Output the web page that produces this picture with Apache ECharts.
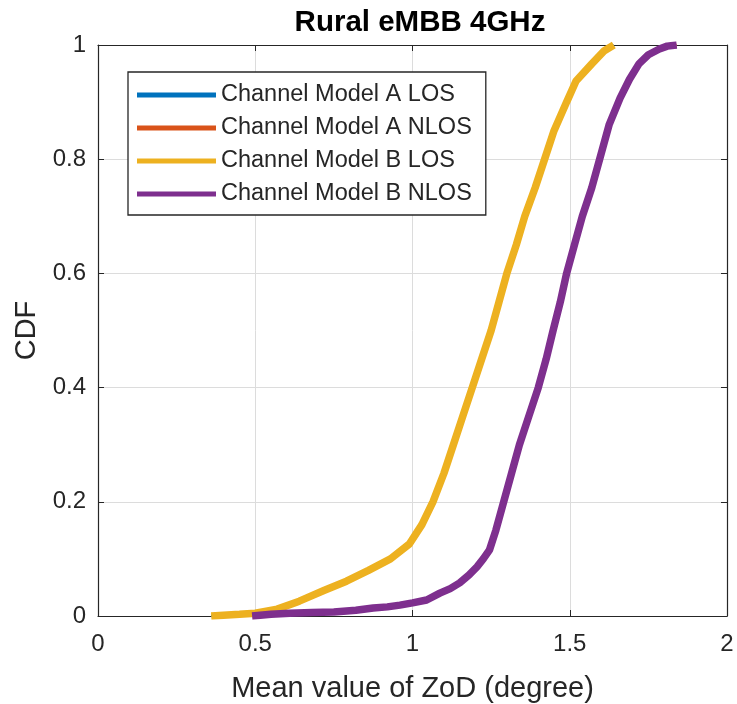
<!DOCTYPE html>
<html>
<head>
<meta charset="utf-8">
<script src="https://cdn.jsdelivr.net/npm/echarts@6/dist/echarts.min.js"></script>
<style>html,body{margin:0;padding:0;background:#fff}#c{width:737px;height:704px}</style>
</head>
<body>
<div id="c"></div>
<script>
var titleText = 'Rural eMBB 4GHz';
var xName = 'Mean value of ZoD (degree)';
var yName = 'CDF';
var seriesNames = ['Channel Model A LOS', 'Channel Model A NLOS', 'Channel Model B LOS', 'Channel Model B NLOS'];
var seriesColors = ['#0072BD', '#D95319', '#EDB120', '#7E2F8E'];
var xTicks = [0, 0.5, 1, 1.5, 2];
var yTicks = [0, 0.2, 0.4, 0.6, 0.8, 1];

// LOS (Model A and B overlap)
var losX = [0.36, 0.45, 0.5, 0.57, 0.64, 0.72, 0.79, 0.86, 0.93, 0.99, 1.03, 1.065, 1.10, 1.13, 1.16, 1.19, 1.22, 1.25, 1.275, 1.30, 1.33, 1.357, 1.39, 1.42, 1.45, 1.49, 1.52, 1.57, 1.61, 1.64];
var losY = [0, 0.003, 0.005, 0.012, 0.026, 0.045, 0.061, 0.08, 0.10, 0.126, 0.16, 0.20, 0.25, 0.30, 0.35, 0.40, 0.45, 0.50, 0.55, 0.60, 0.65, 0.70, 0.75, 0.80, 0.85, 0.90, 0.937, 0.967, 0.99, 1.0];
// NLOS (Model A and B overlap)
var nlosX = [0.49, 0.55, 0.61, 0.68, 0.75, 0.82, 0.875, 0.92, 0.96, 1.0, 1.045, 1.087, 1.12, 1.15, 1.18, 1.205, 1.225, 1.245, 1.265, 1.29, 1.315, 1.34, 1.37, 1.40, 1.425, 1.447, 1.47, 1.49, 1.515, 1.54, 1.57, 1.595, 1.625, 1.66, 1.69, 1.72, 1.75, 1.785, 1.81, 1.84];
var nlosY = [0, 0.003, 0.005, 0.006, 0.007, 0.01, 0.014, 0.016, 0.019, 0.023, 0.028, 0.04, 0.048, 0.058, 0.072, 0.086, 0.1, 0.116, 0.15, 0.2, 0.25, 0.3, 0.35, 0.4, 0.45, 0.5, 0.55, 0.6, 0.65, 0.7, 0.75, 0.8, 0.86, 0.907, 0.94, 0.967, 0.983, 0.993, 0.998, 1.0];

function pairs(xs, ys) { return xs.map(function (x, i) { return [x, ys[i]]; }); }

var FONT = '"Liberation Sans", Arial, Helvetica, sans-serif';
var TXT = '#262626';

var chart = echarts.init(document.getElementById('c'));
var datas = [pairs(losX, losY), pairs(nlosX, nlosY), pairs(losX, losY), pairs(nlosX, nlosY)];
var widths = [3, 3, 7.5, 7.5];

function boxAxis(extra) {
  return Object.assign({
    type: 'value',
    axisLine: { show: true, onZero: false, lineStyle: { color: TXT, width: 1.2 } },
    axisTick: { show: true, inside: true, length: 6, lineStyle: { color: TXT } },
    axisLabel: { show: false }, splitLine: { show: false }
  }, extra);
}

chart.setOption({
  animation: false,
  backgroundColor: '#fff',
  title: {
    text: titleText, left: 415, textAlign: 'center', top: 3,
    textStyle: { fontFamily: FONT, fontSize: 29.5, fontWeight: 'bold', color: '#000' }
  },
  grid: { left: 98, right: 10, top: 45, bottom: 88, outerBoundsMode: 'none', containLabel: false },
  legend: {
    orient: 'vertical', left: 128, top: 72,
    data: seriesNames,
    icon: 'rect', itemWidth: 79, itemHeight: 5, itemGap: 7, itemTextGap: 5,
    padding: [10, 14, 8, 9],
    borderColor: TXT, borderWidth: 1.3, backgroundColor: '#fff',
    textStyle: { fontFamily: FONT, fontSize: 23.5, color: TXT, lineHeight: 26 }
  },
  xAxis: [{
    type: 'value', min: 0, max: 2, interval: 0.5,
    name: xName, nameLocation: 'middle', nameGap: 58,
    nameTextStyle: { fontFamily: FONT, fontSize: 29, color: TXT },
    axisLine: { onZero: false, lineStyle: { color: TXT, width: 1.2 } },
    axisTick: { inside: true, length: 6, lineStyle: { color: TXT } },
    axisLabel: { fontFamily: FONT, fontSize: 24, color: TXT, margin: 16 },
    splitLine: { show: true, lineStyle: { color: '#dcdcdc', width: 1 } }
  }, boxAxis({ min: 0, max: 2, interval: 0.5, position: 'top' })],
  yAxis: [{
    type: 'value', min: 0, max: 1, interval: 0.2,
    name: yName, nameLocation: 'middle', nameGap: 57,
    nameTextStyle: { fontFamily: FONT, fontSize: 29, color: TXT },
    axisLine: { show: true, onZero: false, lineStyle: { color: TXT, width: 1.2 } },
    axisTick: { show: true, inside: true, length: 6, lineStyle: { color: TXT } },
    axisLabel: { fontFamily: FONT, fontSize: 24, color: TXT, margin: 12 },
    splitLine: { show: true, lineStyle: { color: '#dcdcdc', width: 1 } }
  }, boxAxis({ min: 0, max: 1, interval: 0.2, position: 'right' })],
  series: seriesNames.map(function (n, i) {
    return {
      name: n, type: 'line', data: datas[i], showSymbol: false, symbol: 'none',
      color: seriesColors[i],
      lineStyle: { width: widths[i], color: seriesColors[i] },
      z: 2 + i
    };
  })
});
</script>
</body>
</html>
